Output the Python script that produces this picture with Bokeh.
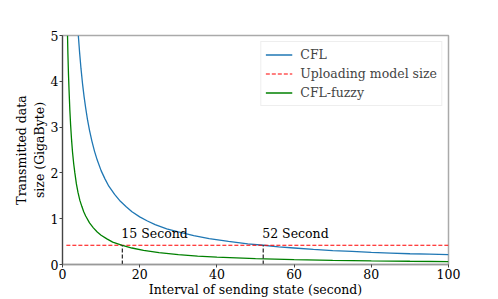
from bokeh.plotting import figure
from bokeh.models import Range1d, Label, Legend, LegendItem
from bokeh.embed import file_html
from bokeh.resources import INLINE

# CFL curve
cfl_x = [4.1, 4.4, 4.8, 5.2, 5.6, 6.0, 6.5, 7.0, 7.6, 8.3, 9.0, 10, 11, 12, 13.5, 15, 16.5, 18, 20, 22, 24,
         27, 30, 34, 38, 43, 48, 52, 56, 60, 65, 70, 75, 80, 85, 90, 95, 100]
cfl_y = [5.0, 4.66, 4.27, 3.94, 3.66, 3.42, 3.15, 2.93, 2.7, 2.47, 2.28, 2.05, 1.87, 1.71, 1.53, 1.38, 1.26, 1.15,
         1.04, 0.95, 0.87, 0.78, 0.71, 0.63, 0.565, 0.505, 0.45, 0.42, 0.385, 0.36, 0.33, 0.305, 0.285, 0.265,
         0.25, 0.235, 0.225, 0.215]

# CFL-fuzzy curve
fuzzy_x = [1.3, 1.4, 1.55, 1.7, 1.9, 2.1, 2.35, 2.6, 2.9, 3.2, 3.6, 4.0, 4.5, 5.0, 5.5, 6.0, 7.0, 8.0, 9.0, 10,
           11.5, 13, 15.5, 18, 21, 25, 30, 35, 40, 50, 60, 70, 80, 90, 100]
fuzzy_y = [5.0, 4.6, 4.15, 3.8, 3.38, 3.05, 2.72, 2.45, 2.2, 2.0, 1.76, 1.58, 1.4, 1.27, 1.15, 1.06, 0.91, 0.8,
           0.71, 0.64, 0.56, 0.49, 0.42, 0.36, 0.31, 0.26, 0.215, 0.185, 0.16, 0.128, 0.107, 0.092, 0.08, 0.071,
           0.064]

# Uploading model size
upload_x = [1, 100]
upload_size = 0.42

# Marked crossings
cross_x = [15.5, 52]
cross_labels = ["15 Second", "52 Second"]

x_ticks = [0, 20, 40, 60, 80, 100]
y_ticks = [0, 1, 2, 3, 4, 5]

SERIF = "DejaVu Serif"
FS = "12.5px"

p = figure(width=498, height=299, output_backend="svg", toolbar_location=None,
           x_range=Range1d(0, 100), y_range=Range1d(0, 5),
           min_border_left=62, min_border_right=50, min_border_top=35, min_border_bottom=33)

p.grid.visible = False
p.outline_line_color = "#aaaaaa"
p.outline_line_width = 1.5

for ax in (p.xaxis[0], p.yaxis[0]):
    ax.major_label_text_font = SERIF
    ax.major_label_text_font_size = FS
    ax.major_label_text_color = "black"
    ax.axis_label_text_font = SERIF
    ax.axis_label_text_font_size = FS
    ax.axis_label_text_font_style = "normal"
    ax.axis_label_text_color = "black"
    ax.minor_tick_line_color = None
    ax.major_tick_in = 0
    ax.major_tick_out = 3
    ax.major_label_standoff = 1

p.xaxis.ticker = x_ticks
p.yaxis.ticker = y_ticks
p.xaxis.axis_label = "Interval of sending state (second)"
p.yaxis.axis_label = "Transmitted data\nsize (GigaByte)"
p.xaxis.axis_label_standoff = 0
p.yaxis.axis_label_standoff = 1
p.xaxis.axis_line_color = "#999999"
p.xaxis.axis_line_width = 1.5
p.xaxis.major_tick_line_color = "#444444"
p.yaxis.axis_line_color = "#444444"
p.yaxis.axis_line_width = 1.2
p.yaxis.major_tick_line_color = "#444444"

r_cfl = p.line(cfl_x, cfl_y, line_color="#1f77b4", line_width=1.3)
r_up = p.line(upload_x, [upload_size, upload_size], line_color="#ff0000", line_width=1.2, line_dash="4 2")
r_fz = p.line(fuzzy_x, fuzzy_y, line_color="#008000", line_width=1.3)

p.segment(x0=cross_x, y0=[0, 0], x1=cross_x, y1=[upload_size, upload_size],
          line_color="#222222", line_width=1.2, line_dash="4 2")

for cx, lab in zip(cross_x, cross_labels):
    p.add_layout(Label(x=cx, y=upload_size + 0.09, text=lab, text_font=SERIF,
                       text_font_size=FS, text_color="black", x_offset=-1))

legend = Legend(items=[LegendItem(label="CFL", renderers=[r_cfl]),
                       LegendItem(label="Uploading model size", renderers=[r_up]),
                       LegendItem(label="CFL-fuzzy", renderers=[r_fz])],
                location="top_right", margin=6, padding=4, spacing=2,
                label_text_font=SERIF, label_text_font_size=FS,
                label_height=17, glyph_height=17,
                glyph_width=27, label_standoff=8,
                border_line_color="#dddddd", border_line_width=1,
                background_fill_alpha=0.9)
p.add_layout(legend)

open("out.html", "w").write(file_html(p, INLINE))
